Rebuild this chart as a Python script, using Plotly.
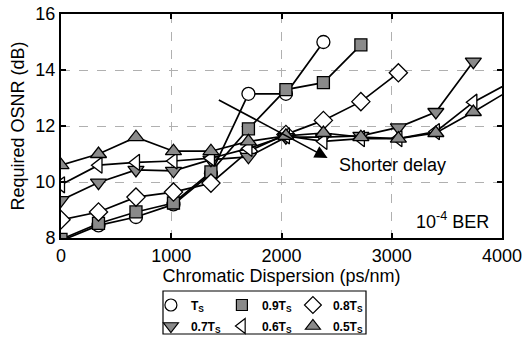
import plotly.graph_objects as go

# Chromatic dispersion sample points (ps/nm)
cd = [0, 340, 680, 1020, 1360, 1700, 2040, 2380, 2720, 3060, 3400, 3740, 4080]

# Required OSNR (dB) for each delay
osnr_ts = [7.9, 8.45, 8.75, 9.2, 10.3, 13.15, 13.15, 15.0]
osnr_09 = [7.95, 8.52, 8.93, 9.25, 10.36, 11.9, 13.3, 13.55, 14.9]
osnr_08 = [8.65, 8.93, 9.46, 9.64, 9.96, 11.1, 11.7, 12.2, 12.87, 13.9]
osnr_07 = [9.35, 9.98, 10.43, 10.4, 10.8, 10.9, 11.6, 11.6, 11.65, 11.95, 12.5, 14.3]
osnr_06 = [9.9, 10.6, 10.7, 10.75, 10.85, 11.2, 11.65, 11.45, 11.55, 11.55, 11.8, 12.85, 13.57]
osnr_05 = [10.6, 11.0, 11.6, 11.1, 11.1, 11.45, 11.65, 11.75, 11.6, 11.55, 11.75, 12.5, 13.3]

series_names = ["T<sub>S</sub>", "0.9T<sub>S</sub>", "0.8T<sub>S</sub>",
                "0.7T<sub>S</sub>", "0.6T<sub>S</sub>", "0.5T<sub>S</sub>"]
series_vals = [osnr_ts, osnr_09, osnr_08, osnr_07, osnr_06, osnr_05]

x_ticks = [0, 1000, 2000, 3000, 4000]
y_ticks = [8, 10, 12, 14, 16]

GRAY = "#8a8a8a"
styles = [
    dict(symbol="circle", color="white", size=13),
    dict(symbol="square", color=GRAY, size=12),
    dict(symbol="diamond", color="white", size=14),
    dict(symbol="triangle-down", color=GRAY, size=14),
    dict(symbol="triangle-left", color="white", size=14),
    dict(symbol="triangle-up", color=GRAY, size=14),
]

FONT = "Arial, Liberation Sans, sans-serif"
fig = go.Figure()

for name, vals, st in zip(series_names, series_vals, styles):
    fig.add_trace(go.Scatter(
        x=cd[:len(vals)], y=vals, mode="lines+markers", showlegend=False,
        line=dict(color="black", width=1.7),
        marker=dict(symbol=st["symbol"], size=st["size"], color=st["color"],
                    line=dict(color="black", width=1.3)),
    ))

# legend-only entries (markers without lines), two rows
for i, (name, st) in enumerate(zip(series_names, styles)):
    fig.add_trace(go.Scatter(
        x=[None], y=[None], mode="markers", name="<b>" + name + "</b>",
        legend="legend" if i < 3 else "legend2",
        marker=dict(symbol=st["symbol"], size=st["size"] - 1, color=st["color"],
                    line=dict(color="black", width=1.2)),
    ))

legend_common = dict(
    orientation="h", xanchor="left", yanchor="middle",
    xref="container", yref="container",
    entrywidth=26, entrywidthmode="pixels", itemwidth=30,
    font=dict(family=FONT, size=12, color="black"),
    bgcolor="rgba(0,0,0,0)", borderwidth=0, tracegroupgap=0,
)

fig.update_layout(
    width=524, height=337,
    margin=dict(l=61, r=22, t=14, b=99, autoexpand=False),
    paper_bgcolor="white", plot_bgcolor="white",
    font=dict(family=FONT, size=18, color="black"),
    legend=dict(x=0.288, y=1 - 305 / 337, **legend_common),
    legend2=dict(x=0.288, y=1 - 326 / 337, **legend_common),
    xaxis=dict(
        range=[0, 4000], tickvals=x_ticks, ticktext=[str(v) for v in x_ticks],
        showline=True, linecolor="black", linewidth=2, mirror="ticks",
        ticks="inside", ticklen=5, tickcolor="black", tickwidth=1.5,
        showgrid=True, gridcolor="#b0b0b0", griddash="dash", gridwidth=1,
        zeroline=False, tickfont=dict(size=18), ticklabelstandoff=0,
        title=dict(text="Chromatic Dispersion (ps/nm)", font=dict(size=18), standoff=1),
    ),
    yaxis=dict(
        range=[8, 16], tickvals=y_ticks, ticktext=[str(v) for v in y_ticks],
        showline=True, linecolor="black", linewidth=2, mirror="ticks",
        ticks="inside", ticklen=5, tickcolor="black", tickwidth=1.5,
        showgrid=True, gridcolor="#b0b0b0", griddash="dash", gridwidth=1,
        zeroline=False, tickfont=dict(size=18),
        title=dict(text="Required OSNR (dB)", font=dict(size=18), standoff=6),
    ),
    shapes=[dict(type="rect", xref="paper", yref="paper",
                 x0=(163 - 61) / 441, x1=(366 - 61) / 441,
                 y0=(238 - 334) / 224, y1=(238 - 291) / 224,
                 line=dict(color="black", width=1.2), fillcolor="rgba(0,0,0,0)")],
    annotations=[
        dict(x=2418, y=10.86, ax=1418, ay=12.96, xref="x", yref="y",
             axref="x", ayref="y", text="", showarrow=True,
             arrowhead=2, arrowsize=1.6, arrowwidth=1.6, arrowcolor="black"),
        dict(x=2500, y=10.62, xref="x", yref="y", text="Shorter delay",
             showarrow=False, xanchor="left", yanchor="middle",
             font=dict(size=18, family=FONT)),
        dict(x=3900, y=8.64, xref="x", yref="y", text="10<sup>-4</sup> BER",
             showarrow=False, xanchor="right", yanchor="middle",
             font=dict(size=18, family=FONT)),
    ],
)

fig.write_html("out.html")
